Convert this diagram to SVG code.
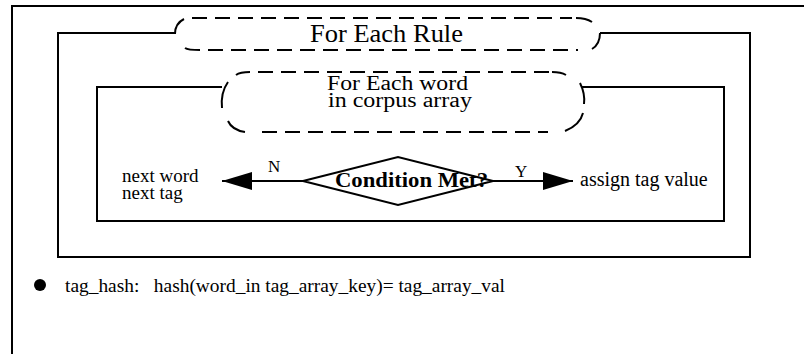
<svg xmlns="http://www.w3.org/2000/svg" width="804" height="354" viewBox="0 0 804 354">
  <style>
    .ln { fill: none; stroke: #000; stroke-width: 2; }
    .dash { fill: none; stroke: #000; stroke-width: 2; stroke-dasharray: 15 8; }
    .t { font-family: "Liberation Serif", "Times New Roman", serif; fill: #000; }
  </style>
  <defs>
    <marker id="arrow" viewBox="0 0 30 18" refX="30" refY="9" markerWidth="30" markerHeight="18" markerUnits="userSpaceOnUse" orient="auto">
      <path d="M0,0 L30,9 L0,18 Z" fill="#000"/>
    </marker>
  </defs>
  <rect width="804" height="354" fill="#fff"/>

  <!-- page frame -->
  <path id="frame" class="ln" d="M12,354 L12,6 L804,6"/>

  <!-- outer loop: for each rule -->
  <g id="rule-loop">
    <path class="ln" d="M175,33 L58,33 L58,257 L750,257 L750,33 L600,33"/>
    <path class="ln" d="M175,34 C175,27 178,22 184,19"/>
    <path class="dash" d="M192,18 L572,18"/>
    <path class="ln" d="M576,18 Q586,18 592,22"/>
    <path class="ln" d="M600,33 C600,41 597,46 592,49"/>
    <path class="ln" d="M185,48 Q188,50 200,50"/>
    <path class="dash" d="M208,50 L578,50"/>
    <text class="t" x="310" y="42" font-size="25" textLength="153" lengthAdjust="spacingAndGlyphs">For Each Rule</text>
  </g>

  <!-- inner loop: for each word -->
  <g id="word-loop">
    <path class="ln" d="M222,87 L97,87 L97,221 L724,221 L724,87 L582,87"/>
    <path class="ln" d="M222,108 C221,98 223,89 228,82"/>
    <path class="ln" d="M228,121 Q232,130 245,132"/>
    <path class="ln" d="M236,75 Q240,72 250,72"/>
    <path class="dash" d="M258,72 L550,72"/>
    <path class="ln" d="M552,72 Q561,72 566,75"/>
    <path class="ln" d="M580,83 C583,89 585,96 584,104"/>
    <path class="ln" d="M583,113 Q580,125 565,131"/>
    <path class="dash" d="M262,132 L548,132"/>
    <text class="t" x="327" y="90" font-size="20" textLength="141" lengthAdjust="spacingAndGlyphs">For Each word</text>
    <text class="t" x="328" y="107" font-size="20" textLength="144" lengthAdjust="spacingAndGlyphs">in corpus array</text>
  </g>

  <!-- decision -->
  <g id="condition">
    <path class="ln" d="M303,181 L398,157 L493,181 L398,205 Z" fill="#fff"/>
    <text class="t" x="335" y="187" font-size="20" font-weight="bold" textLength="153" lengthAdjust="spacingAndGlyphs">Condition Met?</text>
  </g>

  <g id="next">
    <text class="t" x="122" y="182" font-size="19">next word</text>
    <text class="t" x="122" y="199" font-size="19">next tag</text>
  </g>

  <g id="assign">
    <text class="t" x="580" y="186" font-size="20">assign tag value</text>
  </g>

  <!-- connectors -->
  <g id="connectors">
    <path class="ln" d="M303,181 L222,181" marker-end="url(#arrow)"/>
    <text class="t" x="268" y="172" font-size="17">N</text>
    <path class="ln" d="M493,181 L573,181" marker-end="url(#arrow)"/>
    <text class="t" x="515" y="177" font-size="17">Y</text>
  </g>

  <!-- note -->
  <g id="note">
    <circle cx="40" cy="285" r="6" fill="#000"/>
    <text class="t" x="65" y="292" font-size="19" textLength="440" lengthAdjust="spacingAndGlyphs" xml:space="preserve">tag_hash:   hash(word_in tag_array_key)= tag_array_val</text>
  </g>
</svg>
